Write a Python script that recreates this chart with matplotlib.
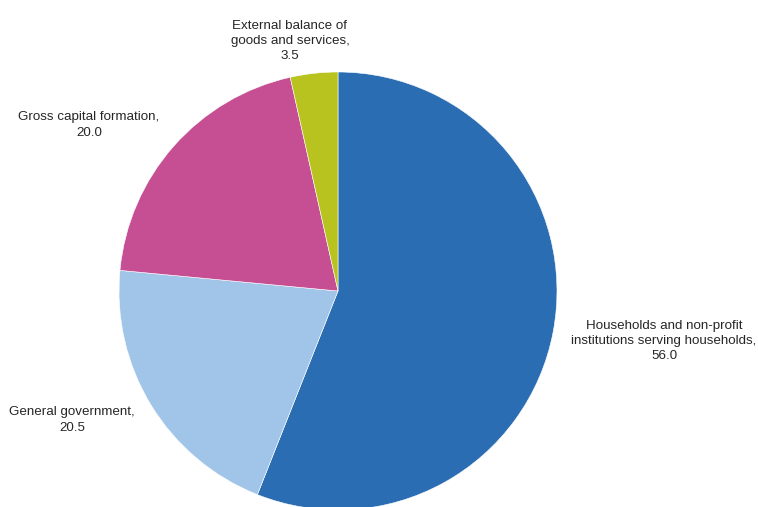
import matplotlib.pyplot as plt

plt.rcParams['font.family'] = ['Liberation Sans', 'DejaVu Sans']

categories = ["Households and non-profit\ninstitutions serving households",
              "General government",
              "Gross capital formation",
              "External balance of\ngoods and services"]
values = [56.0, 20.5, 20.0, 3.5]
colors = ["#2B6DB3", "#A1C5E9", "#C64F94", "#B8C320"]

# label centres in pixels (x, y from top)
label_pos = [(664, 341), (72, 420), (89, 125), (290, 41)]

W, H = 758, 507
fig = plt.figure(figsize=(W / 100, H / 100), dpi=100)
ax = fig.add_axes([0, 0, 1, 1])
ax.pie(values, colors=colors, startangle=90, counterclock=False,
       center=(338, H - 291), radius=219,
       wedgeprops=dict(edgecolor="white", linewidth=0.4))
ax.set_xlim(0, W)
ax.set_ylim(0, H)
ax.set_aspect("equal")
ax.axis("off")

for cat, val, (x, y) in zip(categories, values, label_pos):
    ax.text(x, H - y, "{},\n{:.1f}".format(cat, val), ha="center", va="center",
            fontsize=9.6, color="#262626", linespacing=1.38)

fig.savefig("out.png", dpi=100)
